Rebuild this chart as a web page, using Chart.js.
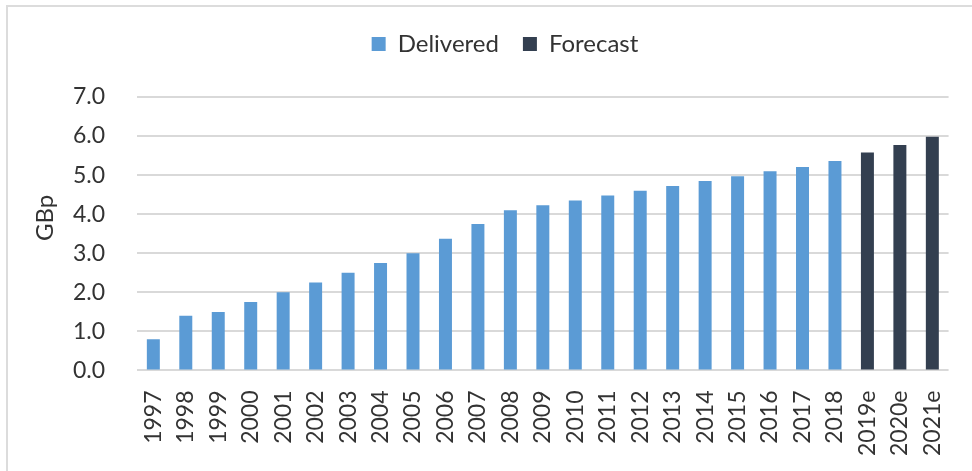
<!DOCTYPE html>
<html>
<head>
<meta charset="utf-8">
<script src="https://cdn.jsdelivr.net/npm/chart.js@4.4.1/dist/chart.umd.min.js"></script>
<style>
  html, body { margin: 0; padding: 0; background: #fff; overflow: hidden; }
  #wrap { position: relative; width: 972px; height: 471px; }
  #frame {
    position: absolute; left: 6px; top: 5px; right: -10px; bottom: -10px;
    border: 2px solid #dcdcdc; pointer-events: none;
  }
</style>
</head>
<body>
<div id="wrap">
  <canvas id="myChart" width="972" height="471"></canvas>
  <div id="frame"></div>
</div>
<script>
const years = ['1997', '1998', '1999', '2000', '2001', '2002', '2003', '2004', '2005',
    '2006', '2007', '2008', '2009', '2010', '2011', '2012', '2013', '2014', '2015',
    '2016', '2017', '2018', '2019e', '2020e', '2021e'];

// pence per share paid out, last three years are estimates
const delivered = [0.8, 1.4, 1.5, 1.75, 2.0, 2.25, 2.5, 2.75, 3.0, 3.37, 3.75, 4.1,
    4.23, 4.35, 4.48, 4.6, 4.72, 4.85, 4.97, 5.1, 5.21, 5.36, null, null, null];
const forecast = [null, null, null, null, null, null, null, null, null, null, null, null,
    null, null, null, null, null, null, null, null, null, null, 5.58, 5.77, 5.98];

const yTicks = [0, 1, 2, 3, 4, 5, 6, 7];

const textColor = '#333333';
const fontFamily = 'Lato, "Open Sans", sans-serif';

// side label drawn by hand so it can sit a little above the axis middle
const sideLabel = {
    id: 'sideLabel',
    afterDraw(chart) {
        const ctx = chart.ctx;
        ctx.save();
        ctx.translate(45, 218);
        ctx.rotate(-Math.PI / 2);
        ctx.font = '24px ' + fontFamily;
        ctx.fillStyle = textColor;
        ctx.textAlign = 'center';
        ctx.textBaseline = 'middle';
        ctx.fillText('GBp', 0, 0);
        ctx.restore();
    }
};

// extra room under the legend
const legendGap = {
    id: 'legendGap',
    beforeInit(chart) {
        const fit = chart.legend.fit;
        chart.legend.fit = function () {
            fit.bind(chart.legend)();
            this.height += 31;
        };
    }
};

document.addEventListener("DOMContentLoaded", function () {
    const ctx = document.getElementById('myChart').getContext('2d');
    new Chart(ctx, {
        type: 'bar',
        data: {
            labels: years,
            datasets: [{
                label: 'Delivered',
                data: delivered,
                backgroundColor: '#5b9bd5',
                barPercentage: 0.4,
                categoryPercentage: 1.0
            }, {
                label: 'Forecast',
                data: forecast,
                backgroundColor: '#333f50',
                barPercentage: 0.4,
                categoryPercentage: 1.0
            }]
        },
        options: {
            responsive: false,
            animation: false,
            layout: {
                padding: { left: 41, right: 3, top: 8, bottom: 3 }
            },
            plugins: {
                legend: {
                    position: 'top',
                    labels: {
                        boxWidth: 14,
                        boxHeight: 14,
                        padding: 24,
                        color: textColor,
                        font: { family: fontFamily, size: 24 }
                    }
                },
                tooltip: { enabled: false }
            },
            datasets: {
                bar: { grouped: false }
            },
            scales: {
                x: {
                    grid: { display: false },
                    border: { display: false },
                    ticks: {
                        minRotation: 90,
                        maxRotation: 90,
                        padding: 12,
                        color: textColor,
                        font: { family: fontFamily, size: 23 }
                    }
                },
                y: {
                    min: 0,
                    max: 7,
                    afterBuildTicks(axis) {
                        axis.ticks = yTicks.map(v => ({ value: v }));
                    },
                    grid: { color: '#d9d9d9', lineWidth: 2, drawTicks: false },
                    border: { display: false },
                    ticks: {
                        padding: 32,
                        color: textColor,
                        font: { family: fontFamily, size: 23 },
                        callback: v => Number(v).toFixed(1)
                    }
                }
            }
        },
        plugins: [sideLabel, legendGap]
    });
});
</script>
</body>
</html>
